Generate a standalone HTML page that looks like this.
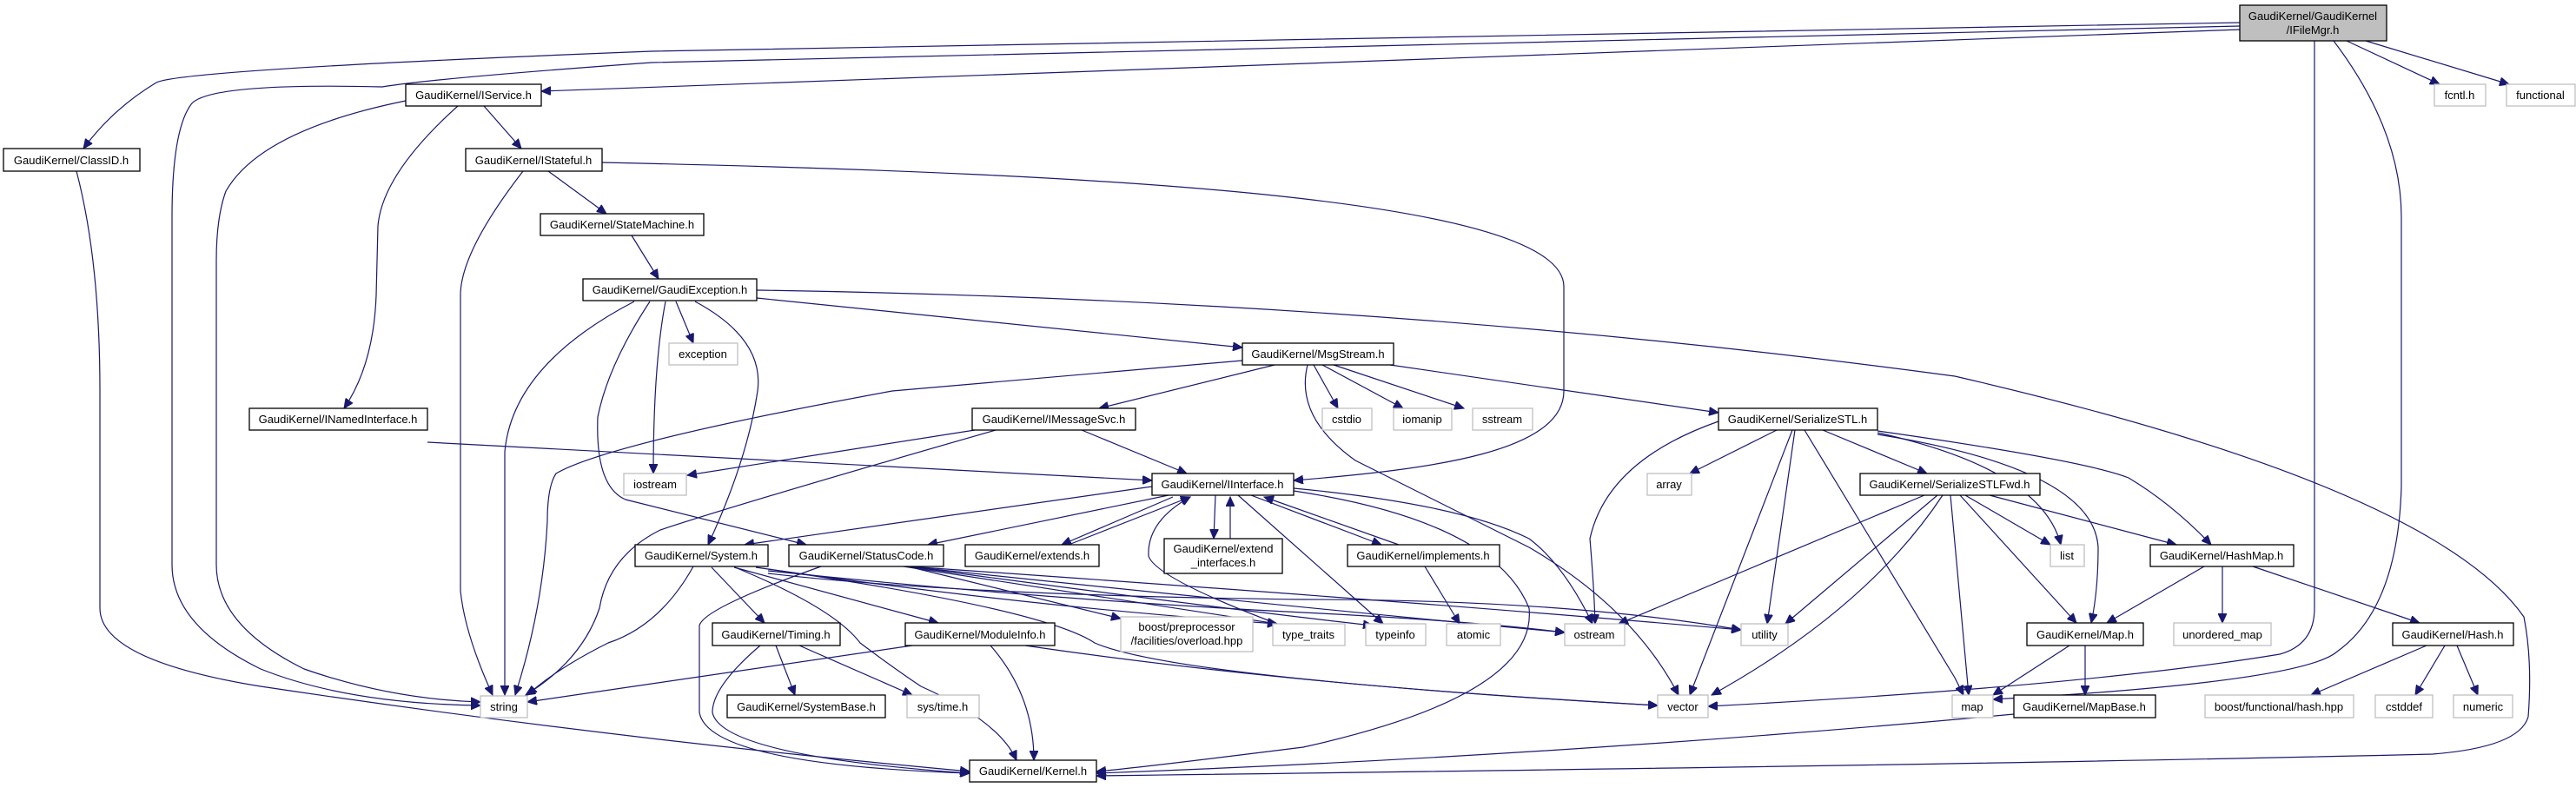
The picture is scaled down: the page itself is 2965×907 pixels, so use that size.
<!DOCTYPE html>
<html><head><meta charset="utf-8"><style>
html,body{margin:0;padding:0;background:#fff;}
svg{display:block;}
text{font-family:"Liberation Sans",Arial,sans-serif;font-size:13px;fill:#000;}
.n{fill:#fff;stroke:#000;stroke-width:1.3;}
.x{fill:#fff;stroke:#bfbfbf;stroke-width:1.3;}
.e{fill:none;stroke:#191970;stroke-width:1.2;marker-end:url(#a);}
</style></head><body>
<svg width="2965" height="907" viewBox="0 0 2965 907" xmlns="http://www.w3.org/2000/svg">
<defs><marker id="a" markerUnits="userSpaceOnUse" markerWidth="12" markerHeight="10" refX="11" refY="5" orient="auto"><path d="M0,0 L11,5 L0,10 z" fill="#191970" stroke="#191970"/></marker></defs>
<g>
<path class="e" d="M2578,26 L750,59 Q210,80 180,95 Q130,125 96,171"/>
<path class="e" d="M2578,30 L750,72 Q500,90 440,100 Q240,95 220,120 Q198,150 198,250 L198,650 Q198,720 300,770 Q400,810 553,812"/>
<path class="e" d="M2578,34 L623,105"/>
<path class="e" d="M2664,47 L2664,700 Q2664,742 2624,753 Q2400,790 1966,813"/>
<path class="e" d="M2686,47 Q2764,150 2764,250 L2764,560 Q2760,700 2690,750 Q2650,785 2294,805"/>
<path class="e" d="M2701,47 L2808,97"/>
<path class="e" d="M2723,47 L2888,97"/>
<path class="e" d="M557,122 L600,171"/>
<path class="e" d="M527,122 Q440,200 435,260 L433,340 Q430,420 396,470"/>
<path class="e" d="M467,116 Q300,150 260,220 Q249,250 249,300 L249,650 Q249,720 350,770 Q450,805 553,808"/>
<path class="e" d="M631,197 L698,246"/>
<path class="e" d="M602,197 Q530,290 530,340 L530,680 Q535,730 567,800"/>
<path class="e" d="M693,187 C1300,200 1800,230 1800,330 L1800,450 C1800,520 1650,540 1489,553"/>
<path class="e" d="M727,271 L758,321"/>
<path class="e" d="M778,347 L798,395"/>
<path class="e" d="M766,347 Q752,420 752,545"/>
<path class="e" d="M800,347 Q880,390 872,450 Q860,530 815,627"/>
<path class="e" d="M730,347 Q590,420 581,520 L581,800"/>
<path class="e" d="M748,347 Q700,420 688,480 Q685,560 720,575 L928,627"/>
<path class="e" d="M871,343 L1430,400"/>
<path class="e" d="M871,334 Q1600,345 2250,433 Q2800,560 2905,710 Q2915,760 2910,825 Q2900,860 2800,868 Q2300,880 1262,893"/>
<path class="e" d="M1430,415 L1027,450 Q700,510 640,545 Q630,560 630,600 Q625,700 593,800"/>
<path class="e" d="M1146,495 Q850,580 760,610 Q700,640 690,700 Q670,760 605,800"/>
<path class="e" d="M1122,495 L791,547"/>
<path class="e" d="M1245,495 L1366,545"/>
<path class="e" d="M1467,420 L1265,470"/>
<path class="e" d="M492,509 L1326,553"/>
<path class="e" d="M1050,743 L750,787 L607,808"/>
<path class="e" d="M88,197 Q115,300 115,450 L115,700 Q115,760 300,790 Q700,850 1116,888"/>
<path class="e" d="M798,652 Q760,720 700,740 Q640,770 607,800"/>
<path class="e" d="M819,653 L880,717"/>
<path class="e" d="M845,653 L1080,717"/>
<path class="e" d="M846,653 Q960,700 990,740 Q1030,770 1060,790 Q1150,830 1170,875"/>
<path class="e" d="M870,653 Q1200,700 1260,740 Q1350,780 1908,812"/>
<path class="e" d="M884,660 Q1100,685 1500,690 Q1800,690 2004,725"/>
<path class="e" d="M884,657 Q1200,690 1500,705 Q1700,715 1801,728"/>
<path class="e" d="M884,655 Q1200,700 1470,718"/>
<path class="e" d="M945,652 Q810,700 805,720 L805,820 Q815,880 1116,890"/>
<path class="e" d="M1045,652 L1290,712"/>
<path class="e" d="M1040,652 L1470,718"/>
<path class="e" d="M1045,652 Q1400,700 1580,720"/>
<path class="e" d="M1045,652 Q1400,690 1801,728"/>
<path class="e" d="M1045,652 Q1600,690 2004,725"/>
<path class="e" d="M893,743 L915,800"/>
<path class="e" d="M920,743 L1050,800"/>
<path class="e" d="M875,743 Q820,790 820,820 Q830,870 1116,890"/>
<path class="e" d="M1140,743 Q1190,800 1190,875"/>
<path class="e" d="M1180,743 Q1500,790 1908,812"/>
<path class="e" d="M1326,560 L857,627"/>
<path class="e" d="M1345,570 L1068,627"/>
<path class="e" d="M1350,572 L1222,627"/>
<path class="e" d="M1230,627 L1370,572"/>
<path class="e" d="M1399,570 L1397,620"/>
<path class="e" d="M1416,620 L1416,572"/>
<path class="e" d="M1440,570 L1590,627"/>
<path class="e" d="M1610,627 L1455,572"/>
<path class="e" d="M1425,570 L1592,718"/>
<path class="e" d="M1489,562 Q1680,580 1760,620 Q1800,650 1833,718"/>
<path class="e" d="M1489,565 Q1720,600 1760,700 Q1770,800 1500,860 Q1300,885 1262,888"/>
<path class="e" d="M1470,718 Q1330,665 1322,640 Q1320,600 1370,572"/>
<path class="e" d="M2318,822 Q1800,870 1262,890"/>
<path class="e" d="M1512,420 L1540,470"/>
<path class="e" d="M1522,420 L1615,470"/>
<path class="e" d="M1535,420 L1685,470"/>
<path class="e" d="M1600,420 L1978,475"/>
<path class="e" d="M1505,420 Q1490,480 1560,530 Q1640,570 1760,630 Q1880,700 1932,800"/>
<path class="e" d="M2045,495 L1945,545"/>
<path class="e" d="M1978,485 Q1850,530 1830,620 Q1835,680 1836,718"/>
<path class="e" d="M2063,495 L1945,800"/>
<path class="e" d="M2066,495 L2034,718"/>
<path class="e" d="M2077,495 L2250,780 L2260,800"/>
<path class="e" d="M2098,495 L2218,545"/>
<path class="e" d="M2161,498 Q2350,540 2372,627"/>
<path class="e" d="M2161,500 Q2410,540 2415,630 Q2415,680 2407,717"/>
<path class="e" d="M2161,496 Q2400,530 2450,550 Q2500,580 2545,627"/>
<path class="e" d="M2215,570 L1863,718"/>
<path class="e" d="M2230,570 L2055,718"/>
<path class="e" d="M2236,570 Q2150,700 1970,800"/>
<path class="e" d="M2245,570 L2266,800"/>
<path class="e" d="M2256,570 L2390,717"/>
<path class="e" d="M2262,570 L2360,627"/>
<path class="e" d="M2290,570 L2505,627"/>
<path class="e" d="M2537,652 L2425,717"/>
<path class="e" d="M2558,652 L2558,717"/>
<path class="e" d="M2593,652 L2785,717"/>
<path class="e" d="M2793,743 L2660,800"/>
<path class="e" d="M2814,743 L2780,800"/>
<path class="e" d="M2828,743 L2852,800"/>
<path class="e" d="M2382,743 L2294,800"/>
<path class="e" d="M2400,743 L2400,800"/>
<path class="e" d="M1640,652 L1680,718"/>
</g>
<g text-anchor="middle">
<rect x="2578" y="6" width="169" height="41" fill="#bfbfbf" stroke="#000" stroke-width="1.3"/>
<text x="2662" y="23">GaudiKernel/GaudiKernel</text><text x="2662" y="39">/IFileMgr.h</text>
<rect class="n" x="4" y="171" width="157" height="26"/><text x="82" y="189">GaudiKernel/ClassID.h</text>
<rect class="n" x="467" y="97" width="156" height="25"/><text x="545" y="114">GaudiKernel/IService.h</text>
<rect class="n" x="536" y="171" width="157" height="26"/><text x="614" y="189">GaudiKernel/IStateful.h</text>
<rect class="n" x="622" y="246" width="188" height="25"/><text x="716" y="263">GaudiKernel/StateMachine.h</text>
<rect class="n" x="671" y="321" width="200" height="25"/><text x="771" y="338">GaudiKernel/GaudiException.h</text>
<rect class="n" x="287" y="470" width="205" height="25"/><text x="389" y="487">GaudiKernel/INamedInterface.h</text>
<rect class="x" x="553" y="801" width="54" height="25"/><text x="580" y="818">string</text>
<rect class="x" x="718" y="545" width="72" height="25"/><text x="754" y="562">iostream</text>
<rect class="x" x="770" y="395" width="79" height="25"/><text x="809" y="412">exception</text>
<rect class="n" x="1430" y="395" width="174" height="25"/><text x="1517" y="412">GaudiKernel/MsgStream.h</text>
<rect class="n" x="1119" y="470" width="188" height="25"/><text x="1213" y="487">GaudiKernel/IMessageSvc.h</text>
<rect class="n" x="1326" y="545" width="163" height="25"/><text x="1407" y="562">GaudiKernel/IInterface.h</text>
<rect class="n" x="731" y="627" width="153" height="25"/><text x="807" y="644">GaudiKernel/System.h</text>
<rect class="n" x="908" y="627" width="178" height="25"/><text x="997" y="644">GaudiKernel/StatusCode.h</text>
<rect class="n" x="1111" y="627" width="154" height="25"/><text x="1188" y="644">GaudiKernel/extends.h</text>
<rect class="n" x="1340" y="620" width="136" height="40"/><text x="1408" y="636">GaudiKernel/extend</text><text x="1408" y="652">_interfaces.h</text>
<rect class="n" x="1551" y="627" width="175" height="25"/><text x="1638" y="644">GaudiKernel/implements.h</text>
<rect class="n" x="820" y="717" width="147" height="26"/><text x="893" y="735">GaudiKernel/Timing.h</text>
<rect class="n" x="1042" y="717" width="172" height="26"/><text x="1128" y="735">GaudiKernel/ModuleInfo.h</text>
<rect class="x" x="1290" y="710" width="152" height="40"/><text x="1366" y="726">boost/preprocessor</text><text x="1366" y="742">/facilities/overload.hpp</text>
<rect class="x" x="1465" y="718" width="83" height="25"/><text x="1506" y="735">type_traits</text>
<rect class="x" x="1572" y="718" width="69" height="25"/><text x="1606" y="735">typeinfo</text>
<rect class="x" x="1665" y="718" width="62" height="25"/><text x="1696" y="735">atomic</text>
<rect class="x" x="1801" y="718" width="69" height="25"/><text x="1835" y="735">ostream</text>
<rect class="x" x="2004" y="718" width="54" height="25"/><text x="2031" y="735">utility</text>
<rect class="n" x="837" y="800" width="182" height="26"/><text x="928" y="818">GaudiKernel/SystemBase.h</text>
<rect class="x" x="1044" y="800" width="83" height="26"/><text x="1085" y="818">sys/time.h</text>
<rect class="n" x="1116" y="875" width="146" height="25"/><text x="1189" y="892">GaudiKernel/Kernel.h</text>
<rect class="x" x="1908" y="800" width="58" height="26"/><text x="1937" y="818">vector</text>
<rect class="x" x="1522" y="470" width="57" height="25"/><text x="1550" y="487">cstdio</text>
<rect class="x" x="1604" y="470" width="67" height="25"/><text x="1637" y="487">iomanip</text>
<rect class="x" x="1695" y="470" width="69" height="25"/><text x="1729" y="487">sstream</text>
<rect class="n" x="1978" y="470" width="183" height="25"/><text x="2069" y="487">GaudiKernel/SerializeSTL.h</text>
<rect class="x" x="1896" y="545" width="51" height="25"/><text x="1921" y="562">array</text>
<rect class="n" x="2141" y="545" width="207" height="25"/><text x="2244" y="562">GaudiKernel/SerializeSTLFwd.h</text>
<rect class="x" x="2360" y="627" width="39" height="25"/><text x="2379" y="644">list</text>
<rect class="n" x="2475" y="627" width="165" height="25"/><text x="2557" y="644">GaudiKernel/HashMap.h</text>
<rect class="n" x="2333" y="717" width="134" height="26"/><text x="2400" y="735">GaudiKernel/Map.h</text>
<rect class="x" x="2502" y="717" width="112" height="26"/><text x="2558" y="735">unordered_map</text>
<rect class="n" x="2754" y="717" width="139" height="26"/><text x="2823" y="735">GaudiKernel/Hash.h</text>
<rect class="x" x="2247" y="800" width="47" height="26"/><text x="2270" y="818">map</text>
<rect class="n" x="2318" y="800" width="163" height="26"/><text x="2399" y="818">GaudiKernel/MapBase.h</text>
<rect class="x" x="2538" y="800" width="171" height="26"/><text x="2623" y="818">boost/functional/hash.hpp</text>
<rect class="x" x="2734" y="800" width="66" height="26"/><text x="2767" y="818">cstddef</text>
<rect class="x" x="2824" y="800" width="68" height="26"/><text x="2858" y="818">numeric</text>
<rect class="x" x="2802" y="97" width="59" height="25"/><text x="2831" y="114">fcntl.h</text>
<rect class="x" x="2885" y="97" width="79" height="25"/><text x="2924" y="114">functional</text>
</g>
</svg>
</body></html>
